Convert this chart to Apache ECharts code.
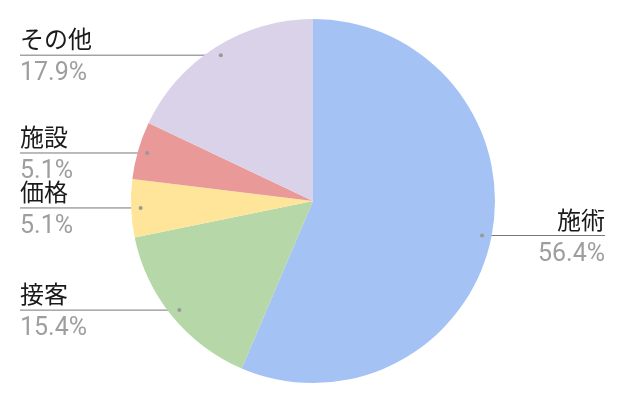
<!DOCTYPE html>
<html><head><meta charset="utf-8">
<script src="https://cdn.jsdelivr.net/npm/echarts@6/dist/echarts.min.js"></script>
<style>html,body{margin:0;padding:0;background:#fff}#c{width:626px;height:403px}</style>
</head><body><div id="c"></div>
<script>
const categories = ['施術', '接客', '価格', '施設', 'その他'];
const values = [22, 6, 2, 2, 7];
const colors = ['#a4c2f4', '#b6d7a8', '#ffe599', '#ea9999', '#d9d2e9'];

const CX = 313, CY = 201, R = 182, DOT = 0.948;
const total = values.reduce((a, b) => a + b, 0);
const dots = [];
let acc = 0;
values.forEach(v => {
  const a = (acc + v / 2) / total * 2 * Math.PI;
  acc += v;
  dots.push([CX + DOT * R * Math.sin(a), CY - DOT * R * Math.cos(a)]);
});

const chart = echarts.init(document.getElementById('c'), null, {renderer: 'canvas'});
chart.setOption({
  animation: false,
  color: colors,
  graphic: dots.map(p => ({type: 'circle', shape: {cx: p[0], cy: p[1], r: 2}, style: {fill: '#999'}, z: 100})),
  series: [{
    type: 'pie',
    center: [CX, CY],
    radius: R,
    startAngle: 90,
    clockwise: true,
    data: categories.map((c, i) => ({name: c, value: values[i]})),
    label: {
      show: true,
      position: 'outside',
      formatter: p => '{n|' + p.name + '}\n{p|' + (p.value / total * 100).toFixed(1) + '%}',
      rich: {
        n: {fontFamily: '"Noto Sans CJK JP", Roboto, sans-serif', fontSize: 24, color: '#1a1a1a', lineHeight: 36},
        p: {fontFamily: 'Roboto, "Noto Sans CJK JP", sans-serif', fontSize: 25, color: '#9e9e9e', lineHeight: 34}
      }
    },
    labelLine: {show: true, length: 5, length2: 5, lineStyle: {color: '#777', width: 1}},
    labelLayout: function (params) {
      const p = dots[params.dataIndex];
      const left = p[0] < CX;
      const ex = left ? 20 : 605;
      return {
        x: ex, y: p[1] + 1, align: left ? 'left' : 'right', verticalAlign: 'middle',
        labelLinePoints: [[p[0], p[1]], [p[0], p[1]], [ex, p[1]]]
      };
    },
    itemStyle: {borderWidth: 0},
    emphasis: {disabled: true}
  }]
});
</script></body></html>
